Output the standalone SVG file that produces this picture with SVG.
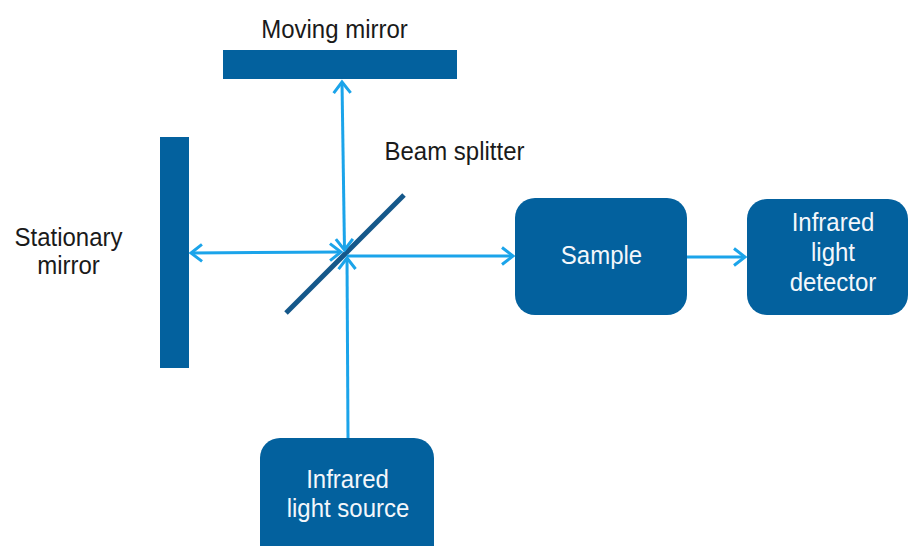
<svg xmlns="http://www.w3.org/2000/svg" width="909" height="546" viewBox="0 0 909 546">
  <style>
    .label { font-family: "Liberation Sans", Arial, sans-serif; font-size: 24px; fill: #1a1a1a; text-anchor: middle; }
    .boxtext { font-family: "Liberation Sans", Arial, sans-serif; font-size: 24px; fill: #f4f7fb; text-anchor: middle; }
    .mirror { fill: #03619e; }
    .box { fill: #03619e; }
    .beam { stroke: #1ba4ea; stroke-width: 3; fill: none; }
  </style>
  <defs>
    <marker id="chevron" markerUnits="userSpaceOnUse" markerWidth="18" markerHeight="22" refX="13" refY="10" orient="auto-start-reverse">
      <path d="M2,1.5 L13,10 L2,18.5" fill="none" stroke="#1ba4ea" stroke-width="3" stroke-linejoin="miter"/>
    </marker>
  </defs>
  <rect width="909" height="546" fill="#ffffff"/>

  <g id="moving-mirror">
    <rect class="mirror" x="223" y="50" width="234" height="29"/>
    <text class="label" transform="translate(334.5,38) scale(1,1.1)">Moving mirror</text>
  </g>

  <g id="stationary-mirror">
    <rect class="mirror" x="160" y="137" width="29" height="231"/>
    <text class="label" transform="translate(68.5,245.5) scale(1,1.1)">Stationary</text>
    <text class="label" transform="translate(68.5,273.5) scale(1,1.1)">mirror</text>
  </g>

  <g id="beam-splitter">
    <line x1="286" y1="313" x2="404" y2="195" stroke="#15588a" stroke-width="5"/>
    <text class="label" transform="translate(454.5,160) scale(1,1.1)">Beam splitter</text>
  </g>

  <g id="sample">
    <rect class="box" x="515" y="198" width="172" height="117" rx="20" ry="20"/>
    <text class="boxtext" transform="translate(601.5,264) scale(1,1.1)">Sample</text>
  </g>

  <g id="detector">
    <rect class="box" x="747" y="199" width="161" height="116" rx="20" ry="20"/>
    <text class="boxtext" transform="translate(833,231) scale(1,1.1)">Infrared</text>
    <text class="boxtext" transform="translate(833,261) scale(1,1.1)">light</text>
    <text class="boxtext" transform="translate(833,291) scale(1,1.1)">detector</text>
  </g>

  <g id="source">
    <rect class="box" x="260" y="438" width="174" height="130" rx="20" ry="20"/>
    <text class="boxtext" transform="translate(347.5,488) scale(1,1.1)">Infrared</text>
    <text class="boxtext" transform="translate(348,516.5) scale(1,1.1)">light source</text>
  </g>

  <g id="connectors">
    <line class="beam" x1="342" y1="82" x2="344.5" y2="250" marker-start="url(#chevron)" marker-end="url(#chevron)"/>
    <line class="beam" x1="191" y1="253" x2="341" y2="252" marker-start="url(#chevron)" marker-end="url(#chevron)"/>
    <line class="beam" x1="347" y1="256" x2="513" y2="256" marker-end="url(#chevron)"/>
    <line class="beam" x1="348" y1="438" x2="347" y2="258" marker-end="url(#chevron)"/>
    <line class="beam" x1="687" y1="257" x2="745" y2="257" marker-end="url(#chevron)"/>
  </g>
</svg>
